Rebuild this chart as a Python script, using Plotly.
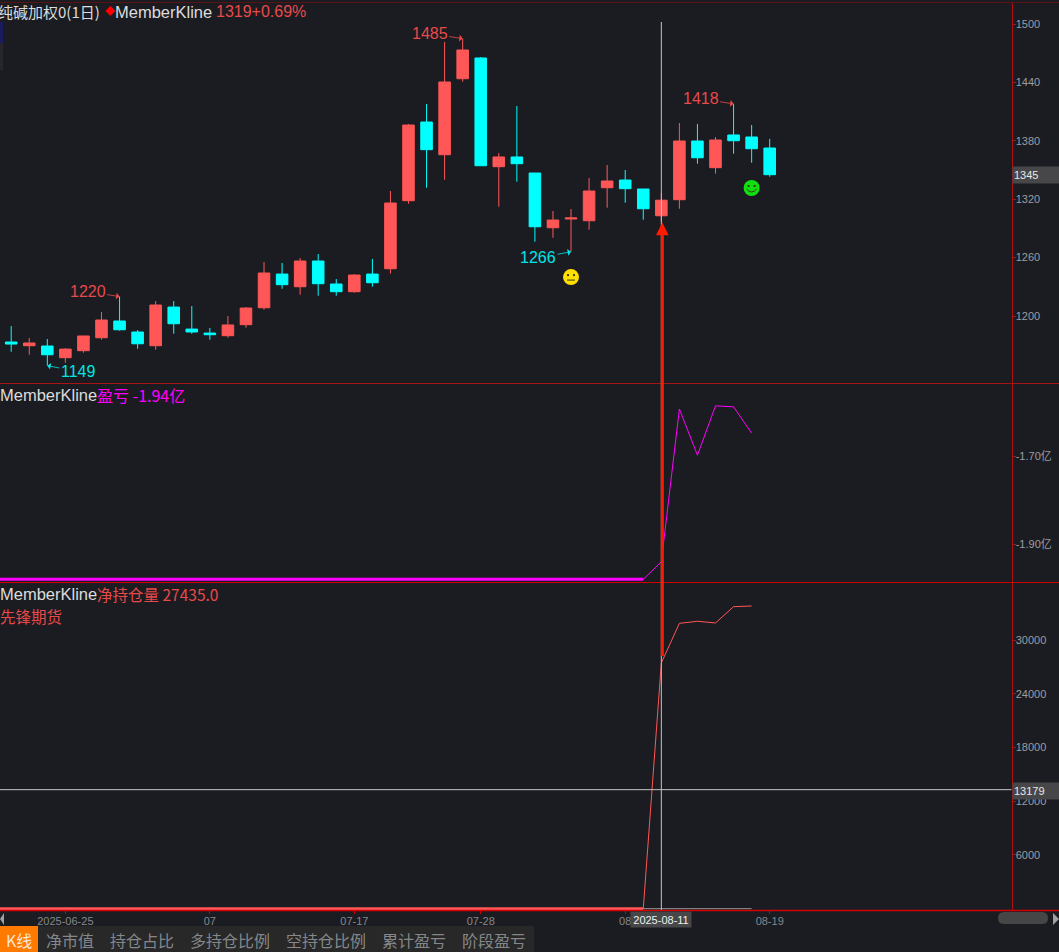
"""
Soda ash daily K-line with member P&L and net position panels (dark terminal look).
"""

import plotly.graph_objects as go
from plotly.subplots import make_subplots

# ---------------------------------------------------------------------------
# Data
# ---------------------------------------------------------------------------

# first date only carries the flat lines off the left edge
DATES = [
    "2025-06-19", "2025-06-20", "2025-06-23", "2025-06-24", "2025-06-25", "2025-06-26",
    "2025-06-27", "2025-06-30", "2025-07-01", "2025-07-02", "2025-07-03", "2025-07-04",
    "2025-07-07", "2025-07-08", "2025-07-09", "2025-07-10", "2025-07-11", "2025-07-14",
    "2025-07-15", "2025-07-16", "2025-07-17", "2025-07-18", "2025-07-21", "2025-07-22",
    "2025-07-23", "2025-07-24", "2025-07-25", "2025-07-28", "2025-07-29", "2025-07-30",
    "2025-07-31", "2025-08-01", "2025-08-04", "2025-08-05", "2025-08-06", "2025-08-07",
    "2025-08-08", "2025-08-11", "2025-08-12", "2025-08-13", "2025-08-14", "2025-08-15",
    "2025-08-18", "2025-08-19",
]

OPENS = [
    1173.3, 1169.5, 1169.2, 1157.2, 1164.4, 1177.7, 1194.9, 1183.6, 1169.5, 1209.2, 1186.6,
    1182.5, 1179.8, 1191.1, 1208.5, 1243.1, 1230.1, 1256.5, 1232.9, 1225.0, 1243.1, 1248.6,
    1318.5, 1399.3, 1365.7, 1443.8, 1465.1, 1353.4, 1363.4, 1346.9, 1290.7, 1299.7, 1297.9,
    1331.8, 1339.7, 1330.5, 1303.0, 1319.5, 1379.8, 1352.4, 1386.0, 1383.9, 1372.6,
]
HIGHS = [
    1189.7, 1177.4, 1176.4, 1167.0, 1179.5, 1204.1, 1220.0, 1185.6, 1215.4, 1215.4, 1210.3,
    1187.7, 1200.0, 1209.2, 1255.5, 1254.5, 1259.6, 1263.7, 1238.0, 1243.1, 1258.6, 1328.4,
    1397.3, 1417.8, 1481.5, 1485.0, 1466.1, 1367.5, 1415.8, 1346.9, 1307.9, 1309.9, 1341.8,
    1355.1, 1350.0, 1330.5, 1326.4, 1398.3, 1397.3, 1383.9, 1418.0, 1396.2, 1381.9,
]
LOWS = [
    1163.3, 1160.2, 1149.0, 1152.0, 1162.3, 1175.7, 1184.9, 1166.4, 1165.4, 1181.8, 1181.8,
    1175.7, 1177.7, 1188.0, 1206.5, 1228.0, 1221.9, 1220.9, 1220.9, 1223.9, 1230.1, 1243.5,
    1315.4, 1331.8, 1340.0, 1440.7, 1354.4, 1312.3, 1338.0, 1276.3, 1280.4, 1266.0, 1288.7,
    1311.3, 1316.4, 1298.9, 1296.9, 1310.2, 1356.5, 1346.2, 1366.7, 1357.5, 1343.1,
]
CLOSES = [
    1171.2, 1172.3, 1160.2, 1166.0, 1179.5, 1195.9, 1185.9, 1171.5, 1211.3, 1192.1, 1183.6,
    1180.8, 1190.8, 1208.2, 1244.2, 1232.2, 1256.5, 1233.2, 1225.0, 1242.1, 1234.2, 1316.1,
    1396.2, 1370.9, 1440.4, 1473.3, 1354.4, 1363.4, 1356.5, 1291.7, 1298.6, 1300.7, 1328.4,
    1338.7, 1330.8, 1310.2, 1319.0, 1379.8, 1362.6, 1380.8, 1380.1, 1371.9, 1345.2,
]

PNL_FLAT = [-1.98] * 37
PNL_MOVE = [-1.98, -1.94, -1.593, -1.698, -1.586, -1.588, -1.648]

NET_FLAT = [0] * 37
NET_MOVE = [0, 27435, 31860, 32090, 31900, 33720, 33795]
ZERO_LINE = [0, 0, 0, 0, 0, 0, 0]

PRICE_TICKS = [1200, 1260, 1320, 1380, 1440, 1500]
PNL_TICKS = [-1.70, -1.90]
PNL_TICK_LABELS = ["-1.70亿", "-1.90亿"]
NET_TICKS = [6000, 12000, 18000, 24000, 30000]

DATE_TICKS = ["2025-06-25", "2025-07-07", "2025-07-17", "2025-07-28", "2025-08-07", "2025-08-19"]
DATE_TICK_LABELS = ["2025-06-25", "07", "07-17", "07-28", "08", "08-19"]

# label, date, price, label offset in pixels, colour name
PEAK_LABELS = [
    ("1220", "2025-06-30", 1220, -32, -5, "red"),
    ("1149", "2025-06-24", 1149, 31, 6, "cyan"),
    ("1485", "2025-07-25", 1485, -33, -5, "red"),
    ("1266", "2025-08-04", 1266, -33, 6, "cyan"),
    ("1418", "2025-08-15", 1418, -33, -5, "red"),
]

CROSS_DATE = "2025-08-11"
CROSS_NET = 13179
CROSS_NET_LINE = 13290  # the drawn line sits a pixel above the boxed value
ARROW_PRICE = 1296
LAST_PRICE = 1345
NEUTRAL_FACE = ("2025-08-04", 1240)
SMILE_FACE = ("2025-08-18", 1331.5)

TABS = ["净市值", "持仓占比", "多持仓比例", "空持仓比例", "累计盈亏", "阶段盈亏"]
TAB_CENTERS = [70, 142, 230, 326, 414, 494]

# ---------------------------------------------------------------------------
# Colours / page geometry
# ---------------------------------------------------------------------------

BG = "#1b1c21"
RED = "#ff5757"
CYAN = "#00ffff"
MAGENTA = "#ff00ff"
TEXT_RED = "#e8494a"
TEXT_CYAN = "#00e6e6"
AXIS_RED = "#b01010"
LINE_RED = "#d40000"
GRAY_TEXT = "#9a9da2"
FONT = "Liberation Sans, Noto Sans CJK SC, sans-serif"
CJK = "Noto Sans CJK SC, sans-serif"

W, H = 1059, 952
AXIS_X = 1011.5


def px(x):
    return x / W


def py(y):
    return 1 - y / H


def paper_text(text, x, y, color, size=16, anchor="left", family=FONT, **kw):
    fig.add_annotation(
        text=text, x=px(x), y=py(y), xref="paper", yref="paper",
        xanchor=anchor, yanchor="middle", showarrow=False, borderpad=0, borderwidth=0,
        font=dict(family=family, size=size, color=color), **kw,
    )


def paper_rect(x0, y0, x1, y1, color):
    fig.add_shape(
        type="rect", xref="paper", yref="paper", x0=px(x0), x1=px(x1), y0=py(y0), y1=py(y1),
        fillcolor=color, line_width=0, layer="above",
    )


def paper_line(x0, y0, x1, y1, color, width=1):
    fig.add_shape(
        type="line", xref="paper", yref="paper", x0=px(x0), x1=px(x1), y0=py(y0), y1=py(y1),
        line=dict(color=color, width=width), layer="above",
    )


def add_face(date, price, color, mouth):
    anchor = dict(
        xref="x", yref="y", xsizemode="pixel", ysizemode="pixel",
        xanchor=date, yanchor=price, layer="above",
    )
    fig.add_shape(type="circle", x0=-8, x1=8, y0=-8, y1=8, fillcolor=color, line_width=0, **anchor)
    for ex in (-3, 3):
        fig.add_shape(type="rect", x0=ex - 1, x1=ex + 1, y0=1, y1=3, fillcolor="#3a3a10", line_width=0, **anchor)
    fig.add_shape(type="path", path=mouth, line=dict(color="#3a3a10", width=1), **anchor)


fig = make_subplots(rows=3, cols=1, shared_xaxes=True, vertical_spacing=0)

# ---------------------------------------------------------------------------
# Traces
# ---------------------------------------------------------------------------

fig.add_trace(go.Candlestick(
    x=DATES[1:], open=OPENS, high=HIGHS, low=LOWS, close=CLOSES,
    increasing=dict(line=dict(color=RED, width=1), fillcolor=RED),
    decreasing=dict(line=dict(color=CYAN, width=1), fillcolor=CYAN),
    whiskerwidth=0, hoverinfo="skip",
), row=1, col=1)

fig.add_trace(go.Scatter(
    x=DATES[:37], y=PNL_FLAT, mode="lines", line=dict(color=MAGENTA, width=3),
), row=2, col=1)
fig.add_trace(go.Scatter(
    x=DATES[36:], y=PNL_MOVE, mode="lines", line=dict(color=MAGENTA, width=1),
), row=2, col=1)

fig.add_trace(go.Scatter(
    x=DATES[36:], y=ZERO_LINE, mode="lines", line=dict(color="#9a9a9a", width=1),
), row=3, col=1)
fig.add_trace(go.Scatter(
    x=DATES[:37], y=NET_FLAT, mode="lines", line=dict(color=RED, width=3),
), row=3, col=1)
fig.add_trace(go.Scatter(
    x=DATES[36:], y=NET_MOVE, mode="lines", line=dict(color=RED, width=1),
), row=3, col=1)

# ---------------------------------------------------------------------------
# Axes
# ---------------------------------------------------------------------------

tick_style = dict(
    side="right", showgrid=False, zeroline=False, showline=True, linecolor=AXIS_RED, linewidth=1,
    ticks="outside", ticklen=3, tickcolor=AXIS_RED, ticklabelstandoff=-2,
    tickfont=dict(family=FONT, size=11, color=GRAY_TEXT),
)
fig.update_yaxes(
    domain=[py(383), py(2)], range=[1131.2, 1522.6], tickvals=PRICE_TICKS, **tick_style, row=1, col=1,
)
fig.update_yaxes(
    domain=[py(582), py(383)], range=[-1.986, -1.534], tickvals=PNL_TICKS, ticktext=PNL_TICK_LABELS,
    **tick_style, row=2, col=1,
)
fig.update_yaxes(
    domain=[py(910), py(582)], range=[-145, 36475], tickvals=NET_TICKS, tickformat="d",
    **tick_style, row=3, col=1,
)

# 18.05 px per candle, first candle centre at x=11.3
fig.update_xaxes(
    type="category", categoryorder="array", categoryarray=DATES,
    range=[0.38, 56.39], domain=[0, px(AXIS_X)], showgrid=False, zeroline=False,
    showline=False, rangeslider_visible=False,
)
fig.update_xaxes(
    tickvals=DATE_TICKS, ticktext=DATE_TICK_LABELS, ticks="outside", ticklen=3, tickcolor=LINE_RED,
    tickangle=0, ticklabelstandoff=-2, tickfont=dict(family=FONT, size=11, color="#85888c"), row=3, col=1,
)

# ---------------------------------------------------------------------------
# Frame lines and crosshair
# ---------------------------------------------------------------------------

paper_line(0, 2.5, W, 2.5, "#5a1212")
paper_line(0, 383.5, W, 383.5, "#a81414")
paper_line(0, 582.5, W, 582.5, LINE_RED)
paper_line(0, 910.5, W, 910.5, LINE_RED, 1.5)

fig.add_shape(
    type="line", xref="x3", yref="paper", x0=CROSS_DATE, x1=CROSS_DATE, y0=py(22), y1=py(910),
    line=dict(color="#c4c4c4", width=1), layer="above",
)
fig.add_shape(
    type="line", xref="paper", yref="y3", x0=0, x1=px(AXIS_X), y0=CROSS_NET_LINE, y1=CROSS_NET_LINE,
    line=dict(color="#c4c4c4", width=1), layer="above",
)

# small box cut off at the left edge
paper_rect(0, 22, 3, 43, "#1a1a60")
paper_rect(0, 43, 3, 70, "#26262b")

# ---------------------------------------------------------------------------
# Marks on the price panel
# ---------------------------------------------------------------------------

for label, date, price, ax, ay, tone in PEAK_LABELS:
    color = TEXT_RED if tone == "red" else TEXT_CYAN
    fig.add_annotation(
        text=label, x=date, y=price, xref="x", yref="y", ax=ax, ay=ay, axref="pixel", ayref="pixel",
        showarrow=True, arrowhead=1, arrowsize=1.4, arrowwidth=0.8, arrowcolor=color,
        font=dict(family=FONT, size=16, color=color),
    )

add_face(NEUTRAL_FACE[0], NEUTRAL_FACE[1], "#ffe000", "M-4,-3 L4,-3")
add_face(SMILE_FACE[0], SMILE_FACE[1], "#10e010", "M-5,-1 Q0,-7 5,-1")

fig.add_annotation(
    text="", x=CROSS_DATE, y=ARROW_PRICE, xref="x", yref="y", ax=0, ay=435, axref="pixel", ayref="pixel",
    xshift=1, showarrow=True, arrowhead=2, arrowsize=0.85, arrowwidth=3, arrowcolor="#ff1a00",
)

# value boxes on the axis
fig.add_annotation(
    text=str(LAST_PRICE), x=px(1012), y=LAST_PRICE, xref="paper", yref="y", xanchor="left", showarrow=False,
    width=47, height=14, align="left", bgcolor="#47474a", font=dict(family=FONT, size=11, color="#e8e8e8"),
)
fig.add_annotation(
    text=str(CROSS_NET), x=px(1012), y=CROSS_NET, xref="paper", yref="y3", xanchor="left", showarrow=False,
    width=47, height=14, align="left", bgcolor="#47474a", font=dict(family=FONT, size=11, color="#e8e8e8"),
)
fig.add_annotation(
    text=CROSS_DATE, x=CROSS_DATE, y=py(919), xref="x3", yref="paper", yanchor="middle", showarrow=False,
    width=58, height=13, bgcolor="#47474a", font=dict(family=FONT, size=11, color="#f0f0f0"),
)

# ---------------------------------------------------------------------------
# Panel captions
# ---------------------------------------------------------------------------

paper_text("纯碱加权0(1日)", 100, 12, "#dcdcdc", anchor="right", family=CJK, size=15)
paper_text("◆", 105, 12, "#ff0000", size=10)
paper_text("MemberKline", 115, 12, "#dcdcdc", size=16.5)
paper_text("1319+0.69%", 216, 12, TEXT_RED, size=16)

paper_text("MemberKline", 0, 395, "#dcdcdc", size=16.5)
paper_text("盈亏 -1.94亿", 97, 395, MAGENTA, size=16, family=CJK)

paper_text("MemberKline", 0, 594, "#dcdcdc", size=16.5)
paper_text("净持仓量 27435.0", 97, 594, TEXT_RED, size=15.5, family=CJK)
paper_text("先锋期货", 0, 616, TEXT_RED, size=15.5, family=CJK)

# ---------------------------------------------------------------------------
# Tab bar and scroll bar
# ---------------------------------------------------------------------------

paper_rect(0, 926, 534, H, "#282828")
paper_rect(0, 926, 38, H, "#ff7a00")
paper_text("K线", 19, 940, "#fbe6d2", anchor="center", family=CJK)
for tab, center in zip(TABS, TAB_CENTERS):
    paper_text(tab, center, 940, "#85878b", anchor="center", family=CJK)

fig.add_shape(
    type="path", xref="paper", yref="paper", layer="above", line_width=0, fillcolor="#464646",
    path=(
        f"M{px(1004)},{py(912)} L{px(1042)},{py(912)} Q{px(1048)},{py(912)} {px(1048)},{py(918)} "
        f"Q{px(1048)},{py(924)} {px(1042)},{py(924)} L{px(1004)},{py(924)} "
        f"Q{px(998)},{py(924)} {px(998)},{py(918)} Q{px(998)},{py(912)} {px(1004)},{py(912)} Z"
    ),
)
fig.add_shape(
    type="path", xref="paper", yref="paper", layer="above", line_width=0, fillcolor="#a0a0a0",
    path=f"M{px(1053)},{py(913)} L{px(1059)},{py(919)} L{px(1053)},{py(925)} Z",
)
fig.add_shape(
    type="path", xref="paper", yref="paper", layer="above", line_width=0, fillcolor="#a0a0a0",
    path=f"M{px(4)},{py(913)} L{px(0)},{py(919)} L{px(4)},{py(925)} Z",
)

fig.update_layout(
    width=W, height=H, autosize=False,
    margin=dict(l=0, r=0, t=0, b=0),
    paper_bgcolor=BG, plot_bgcolor=BG,
    showlegend=False, hovermode=False, boxgap=0.36, boxgroupgap=0,
)

fig.write_html(
    "out.html",
    config={"displayModeBar": False},
    post_script="document.body.style.margin='0';",
)
